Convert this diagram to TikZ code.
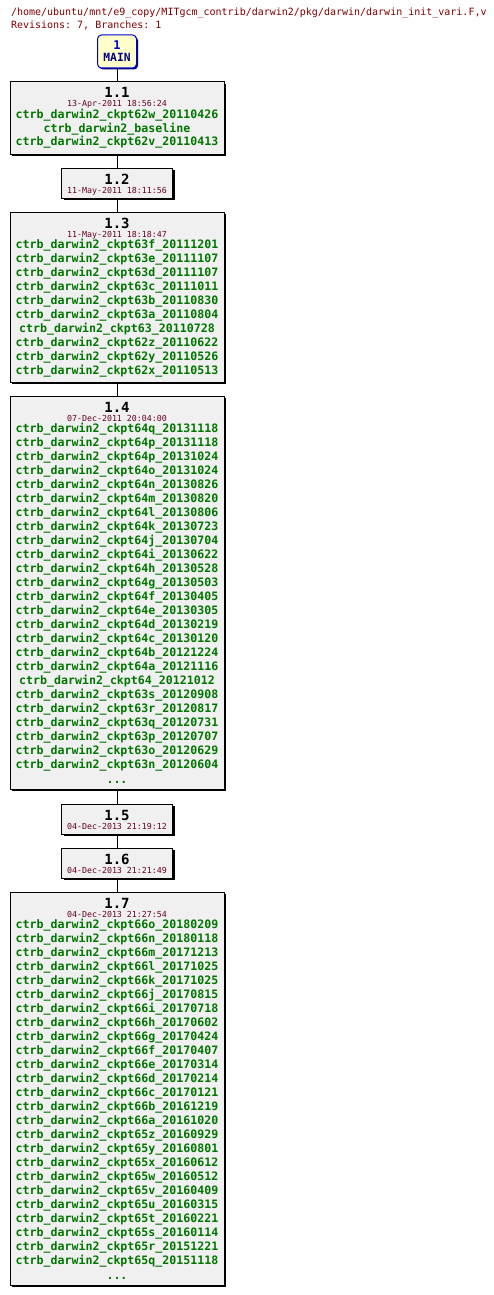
\documentclass[tikz,border=0pt]{standalone}
\usepackage{fontspec}
\setmonofont{DejaVu Sans Mono}
\usetikzlibrary{shadows}
\definecolor{tagcol}{RGB}{0,118,0}
\definecolor{datecol}{RGB}{102,0,34}
\definecolor{hdrcol}{RGB}{128,0,0}
\definecolor{boxgray}{RGB}{240,240,240}
\definecolor{mainfill}{RGB}{255,255,204}
\definecolor{mainline}{RGB}{0,0,204}
\definecolor{mainnavy}{RGB}{0,0,128}
\begin{document}
\begin{tikzpicture}[x=1pt,y=-1pt,line width=1pt,
  revbox/.style={draw=black,fill=boxgray,inner sep=0pt,
    drop shadow={shadow xshift=2pt,shadow yshift=-2pt,opacity=1,fill=black}},
  mainbox/.style={draw=mainline,fill=mainfill,rounded corners=4pt,inner sep=0pt,
    drop shadow={shadow xshift=1.5pt,shadow yshift=-1.5pt,opacity=1,fill=mainnavy}},
  hdrtext/.style={anchor=west,inner sep=0pt,text=hdrcol,font=\ttfamily\fontsize{10}{12}\selectfont},
  revnum/.style={inner sep=0pt,text height=10pt,text depth=0pt,font=\ttfamily\bfseries\fontsize{14}{16}\selectfont},
  revdate/.style={inner sep=0pt,text height=6pt,text depth=0pt,text=datecol,font=\ttfamily\fontsize{8.3}{10}\selectfont},
  tagname/.style={inner sep=0pt,text height=8.4pt,text depth=2.4pt,text=tagcol,font=\ttfamily\bfseries\fontsize{11.6}{14}\selectfont}]
\useasboundingbox (0,0) rectangle (494,1295);
% header
\node[hdrtext] (hdr1) at (10.5,13) {/home/ubuntu/mnt/e9\_copy/MITgcm\_contrib/darwin2/pkg/darwin/darwin\_init\_vari.F,v};
\node[hdrtext] (hdr2) at (10.5,25) {Revisions: 7, Branches: 1};
% boxes
\node[mainbox,minimum width=39pt,minimum height=33pt] (main) at (117,51.5) {};
\node[revbox,minimum width=214pt,minimum height=72pt] (r11) at (117,118) {};
\node[revbox,minimum width=111pt,minimum height=30pt] (r12) at (117,183) {};
\node[revbox,minimum width=214pt,minimum height=170pt] (r13) at (117,297) {};
\node[revbox,minimum width=214pt,minimum height=393pt] (r14) at (117,592.5) {};
\node[revbox,minimum width=111pt,minimum height=30pt] (r15) at (117,819) {};
\node[revbox,minimum width=111pt,minimum height=30pt] (r16) at (117,863) {};
\node[revbox,minimum width=214pt,minimum height=393pt] (r17) at (117,1088.5) {};
% connectors
\draw (main) -- (r11);
\draw (r11) -- (r12);
\draw (r12) -- (r13);
\draw (r13) -- (r14);
\draw (r14) -- (r15);
\draw (r15) -- (r16);
\draw (r16) -- (r17);
% MAIN
\node[inner sep=0pt,text=mainline,font=\ttfamily\bfseries\fontsize{12}{14}\selectfont] (mainnum) at (117,45) {1};
\node[inner sep=0pt,text=mainnavy,font=\ttfamily\bfseries\fontsize{11.3}{13}\selectfont] (mainlbl) at (117,57.7) {MAIN};
% 1.1
\node[revnum] (v11) at (117,93) {1.1};
\node[revdate] (d11) at (117,104) {13-Apr-2011 18:56:24};
\foreach \t [count=\i from 0] in {ctrb\_darwin2\_ckpt62w\_20110426,ctrb\_darwin2\_baseline,ctrb\_darwin2\_ckpt62v\_20110413}
  \node[tagname] (t11-\i) at (117,115+14*\i) {\t};
% 1.2
\node[revnum] (v12) at (117,179) {1.2};
\node[revdate] (d12) at (117,190) {11-May-2011 18:11:56};
% 1.3
\node[revnum] (v13) at (117,223) {1.3};
\node[revdate] (d13) at (117,234) {11-May-2011 18:18:47};
\foreach \t [count=\i from 0] in {ctrb\_darwin2\_ckpt63f\_20111201,ctrb\_darwin2\_ckpt63e\_20111107,
  ctrb\_darwin2\_ckpt63d\_20111107,ctrb\_darwin2\_ckpt63c\_20111011,ctrb\_darwin2\_ckpt63b\_20110830,
  ctrb\_darwin2\_ckpt63a\_20110804,ctrb\_darwin2\_ckpt63\_20110728,ctrb\_darwin2\_ckpt62z\_20110622,
  ctrb\_darwin2\_ckpt62y\_20110526,ctrb\_darwin2\_ckpt62x\_20110513}
  \node[tagname] (t13-\i) at (117,245+14*\i) {\t};
% 1.4
\node[revnum] (v14) at (117,407) {1.4};
\node[revdate] (d14) at (117,418) {07-Dec-2011 20:04:00};
\foreach \t [count=\i from 0] in {ctrb\_darwin2\_ckpt64q\_20131118,ctrb\_darwin2\_ckpt64p\_20131118,
  ctrb\_darwin2\_ckpt64p\_20131024,ctrb\_darwin2\_ckpt64o\_20131024,ctrb\_darwin2\_ckpt64n\_20130826,
  ctrb\_darwin2\_ckpt64m\_20130820,ctrb\_darwin2\_ckpt64l\_20130806,ctrb\_darwin2\_ckpt64k\_20130723,
  ctrb\_darwin2\_ckpt64j\_20130704,ctrb\_darwin2\_ckpt64i\_20130622,ctrb\_darwin2\_ckpt64h\_20130528,
  ctrb\_darwin2\_ckpt64g\_20130503,ctrb\_darwin2\_ckpt64f\_20130405,ctrb\_darwin2\_ckpt64e\_20130305,
  ctrb\_darwin2\_ckpt64d\_20130219,ctrb\_darwin2\_ckpt64c\_20130120,ctrb\_darwin2\_ckpt64b\_20121224,
  ctrb\_darwin2\_ckpt64a\_20121116,ctrb\_darwin2\_ckpt64\_20121012,ctrb\_darwin2\_ckpt63s\_20120908,
  ctrb\_darwin2\_ckpt63r\_20120817,ctrb\_darwin2\_ckpt63q\_20120731,ctrb\_darwin2\_ckpt63p\_20120707,
  ctrb\_darwin2\_ckpt63o\_20120629,ctrb\_darwin2\_ckpt63n\_20120604}
  \node[tagname] (t14-\i) at (117,429+14*\i) {\t};
\node[tagname] (m14) at (117,780) {...};
% 1.5
\node[revnum] (v15) at (117,815) {1.5};
\node[revdate] (d15) at (117,826) {04-Dec-2013 21:19:12};
% 1.6
\node[revnum] (v16) at (117,859) {1.6};
\node[revdate] (d16) at (117,870) {04-Dec-2013 21:21:49};
% 1.7
\node[revnum] (v17) at (117,903) {1.7};
\node[revdate] (d17) at (117,914) {04-Dec-2013 21:27:54};
\foreach \t [count=\i from 0] in {ctrb\_darwin2\_ckpt66o\_20180209,ctrb\_darwin2\_ckpt66n\_20180118,
  ctrb\_darwin2\_ckpt66m\_20171213,ctrb\_darwin2\_ckpt66l\_20171025,ctrb\_darwin2\_ckpt66k\_20171025,
  ctrb\_darwin2\_ckpt66j\_20170815,ctrb\_darwin2\_ckpt66i\_20170718,ctrb\_darwin2\_ckpt66h\_20170602,
  ctrb\_darwin2\_ckpt66g\_20170424,ctrb\_darwin2\_ckpt66f\_20170407,ctrb\_darwin2\_ckpt66e\_20170314,
  ctrb\_darwin2\_ckpt66d\_20170214,ctrb\_darwin2\_ckpt66c\_20170121,ctrb\_darwin2\_ckpt66b\_20161219,
  ctrb\_darwin2\_ckpt66a\_20161020,ctrb\_darwin2\_ckpt65z\_20160929,ctrb\_darwin2\_ckpt65y\_20160801,
  ctrb\_darwin2\_ckpt65x\_20160612,ctrb\_darwin2\_ckpt65w\_20160512,ctrb\_darwin2\_ckpt65v\_20160409,
  ctrb\_darwin2\_ckpt65u\_20160315,ctrb\_darwin2\_ckpt65t\_20160221,ctrb\_darwin2\_ckpt65s\_20160114,
  ctrb\_darwin2\_ckpt65r\_20151221,ctrb\_darwin2\_ckpt65q\_20151118}
  \node[tagname] (t17-\i) at (117,925+14*\i) {\t};
\node[tagname] (m17) at (117,1276) {...};
\end{tikzpicture}
\end{document}
